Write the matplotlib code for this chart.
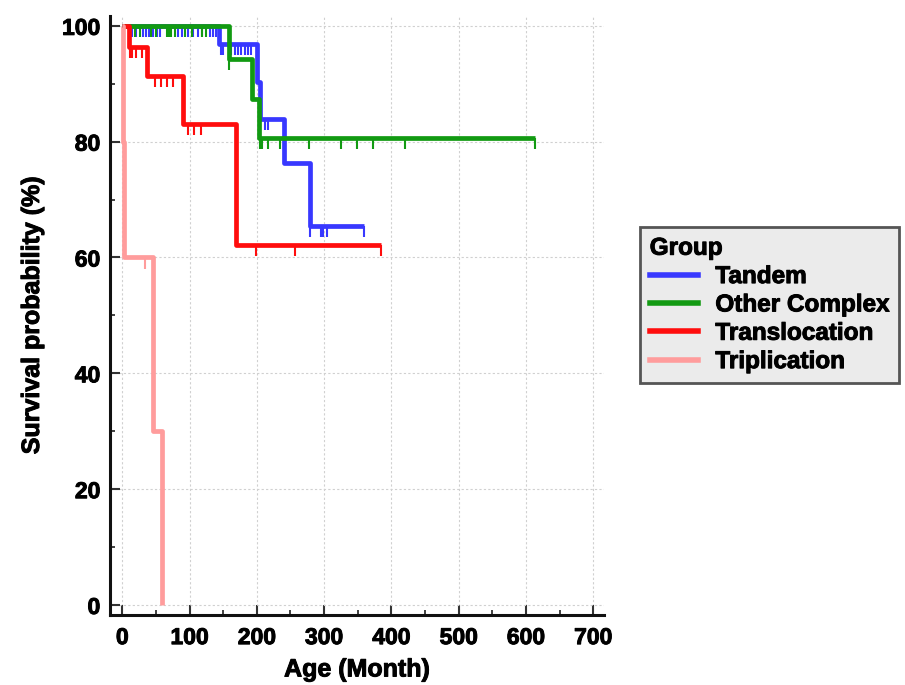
import numpy as np
import matplotlib
matplotlib.use("Agg")
import matplotlib.pyplot as plt
import matplotlib.patheffects as pe
from matplotlib.lines import Line2D
from matplotlib.ticker import MultipleLocator

plt.rcParams['font.family'] = ['Liberation Sans', 'DejaVu Sans']
plt.rcParams['font.weight'] = 'bold'
plt.rcParams['axes.labelweight'] = 'bold'

# Kaplan-Meier step values (time in months, survival in %)
groups = ['Tandem', 'Other Complex', 'Translocation', 'Triplication']
colors = ['#3838ff', '#129a12', '#ff0d0d', '#ff9c9c']

tandem_t = [0, 143, 200, 205, 241, 279, 359]
tandem_s = [100, 96.9, 90.3, 84.0, 76.4, 65.4, 65.4]
tandem_cens = [15, 20, 31, 35, 39, 46, 51, 56, 83, 88, 98, 105, 113, 118, 130, 135, 140,
               146, 150, 162, 167, 172, 177, 182, 187, 192, 212, 216,
               279, 295, 298, 305, 359]

other_t = [0, 158, 193, 203, 614]
other_s = [100, 94.2, 87.3, 80.6, 80.6]
other_cens = [19, 26, 42, 50, 66, 70, 73, 78, 93, 103, 118, 125, 158,
              205, 208, 216, 235, 278, 325, 349, 372, 420, 614]

transl_t = [0, 10, 37, 90, 169, 384]
transl_s = [100, 96.3, 91.3, 83.1, 62.2, 62.2]
transl_cens = [11, 15, 20, 30, 49, 57, 66, 75, 98, 107, 117, 199, 256, 384]

tripl_t = [0, 1, 3, 45, 59]
tripl_s = [100, 80, 60, 30, 0]
tripl_cens = [33]

series = [
    (tandem_t, tandem_s, tandem_cens),
    (other_t, other_s, other_cens),
    (transl_t, transl_s, transl_cens),
    (tripl_t, tripl_s, tripl_cens),
]


def surv_at(t, s, x):
    idx = np.searchsorted(t, x, side='right') - 1
    return np.asarray(s)[idx]


fig = plt.figure(figsize=(9.05, 6.85), dpi=100)
ax = fig.add_axes([110 / 905, 1 - 615 / 685, 494 / 905, 599 / 685])

order = [3, 0, 1, 2]
for i in order:
    t, s, cens = series[i]
    ax.step(t, s, where='post', color=colors[i], lw=3.4, solid_capstyle='butt', zorder=3 + i)
    cy = surv_at(t, s, cens)
    ax.vlines(cens, cy - 1.9, cy, color=colors[i], lw=1.5, zorder=3 + i)

ax.set_xlim(-18.3, 716)
ax.set_ylim(-1.73, 101.7)
ax.xaxis.set_major_locator(MultipleLocator(100))
ax.xaxis.set_minor_locator(MultipleLocator(50))
ax.yaxis.set_major_locator(MultipleLocator(20))
ax.yaxis.set_minor_locator(MultipleLocator(10))

ax.grid(True, which='major', color='#d0d0d0', linestyle=(0, (2, 2)), linewidth=0.8, zorder=0)
ax.set_axisbelow(True)

for side in ['top', 'right']:
    ax.spines[side].set_visible(False)
for side in ['left', 'bottom']:
    ax.spines[side].set_linewidth(2.2)
    ax.spines[side].set_color('#111111')

ax.tick_params(which='major', direction='in', length=7, width=1.5, color='#333333', labelsize=16.5)
ax.tick_params(which='minor', direction='in', length=3.5, width=1.3, color='#333333')
ax.tick_params(axis='x', pad=8)
ax.tick_params(axis='y', pad=7)

ax.set_xlabel('Age (Month)', fontsize=18, labelpad=6)
ax.set_ylabel('Survival probability (%)', fontsize=18, labelpad=13)

handles = [Line2D([0], [0], color=c, lw=4) for c in colors]
leg = fig.legend(handles, groups, title='Group', loc='upper left',
                 bbox_to_anchor=(640 / 905, 1 - 227 / 685), borderaxespad=0,
                 frameon=True, fancybox=False, framealpha=1,
                 facecolor='#ebebeb', edgecolor='#555555',
                 prop={'size': 17.5, 'weight': 'bold'},
                 title_fontproperties={'size': 17.5, 'weight': 'bold'},
                 alignment='left', handlelength=2.0, handletextpad=0.7,
                 labelspacing=0.22, borderpad=0.4)
leg.get_frame().set_linewidth(2)

# slightly heavier strokes, the reference text is very bold
heavy = [pe.withStroke(linewidth=0.7, foreground='black')]
texts = ax.get_xticklabels() + ax.get_yticklabels() + [ax.xaxis.label, ax.yaxis.label]
texts += leg.get_texts() + [leg.get_title()]
for txt in texts:
    txt.set_path_effects(heavy)

fig.savefig('out.png', dpi=100)
